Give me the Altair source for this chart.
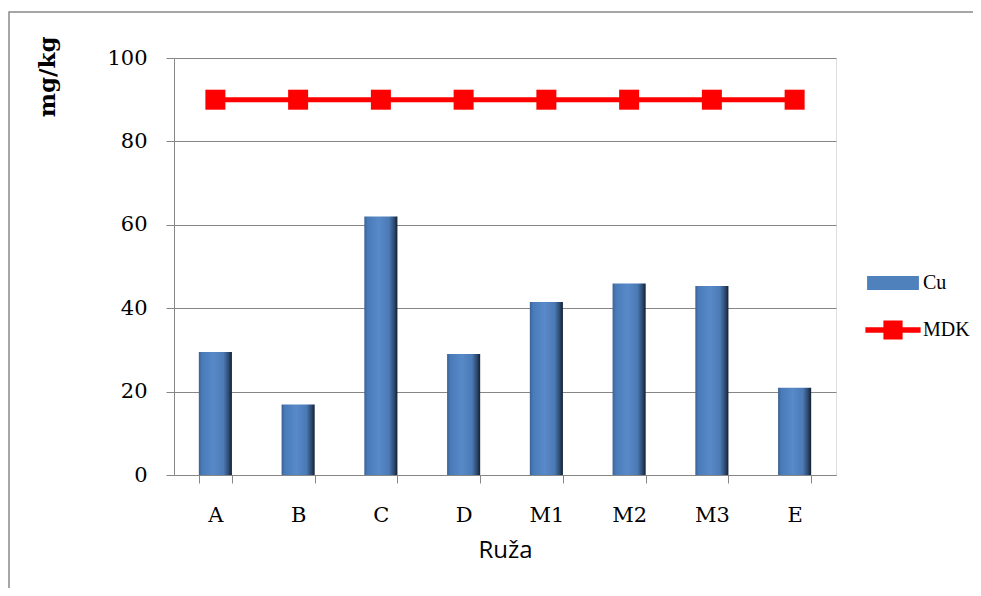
import altair as alt
import pandas as pd

categories = ["A", "B", "C", "D", "M1", "M2", "M3", "E"]
cu_values = [29.5, 16.9, 62.0, 29.0, 41.5, 45.9, 45.3, 20.9]
mdk_values = [90, 90, 90, 90, 90, 90, 90, 90]
series_names = ["Cu", "MDK"]
y_ticks = [0, 20, 40, 60, 80, 100]

df = pd.DataFrame({"Ruža": categories, "Cu": cu_values, "MDK": mdk_values, "series": ["MDK"] * len(categories)})

GRAY = "#868686"
SERIF = "DejaVu Serif"

x_enc = alt.X(
    "Ruža:N",
    sort=categories,
    scale=alt.Scale(paddingInner=0.6, paddingOuter=0.3),
    axis=alt.Axis(
        title="Ruža",
        titleFont="Open Sans",
        titleFontSize=24,
        titleFontWeight="normal",
        titleColor="#000000",
        titlePadding=13,
        labelFont=SERIF,
        labelFontSize=21,
        labelColor="#000000",
        labelAngle=0,
        labelPadding=21,
        tickBand="extent",
        tickSize=8,
        tickColor=GRAY,
        domainColor=GRAY,
        grid=False,
    ),
)

y_axis = alt.Axis(
    title="mg/kg",
    titleFont=SERIF,
    titleFontSize=23,
    titleFontWeight="bold",
    titleColor="#000000",
    titleAngle=-90,
    titleAlign="right",
    titleBaseline="middle",
    titleX=-127,
    titleY=-22,
    labelFont=SERIF,
    labelFontSize=21,
    labelColor="#000000",
    labelPadding=19,
    values=y_ticks,
    tickSize=8,
    tickColor=GRAY,
    domainColor=GRAY,
    gridColor=GRAY,
    gridWidth=1,
)

bar_gradient = alt.LinearGradient(
    gradient="linear",
    x1=0, x2=1, y1=0, y2=0,
    stops=[
        alt.GradientStop(color="#3a6295", offset=0),
        alt.GradientStop(color="#4a7bb9", offset=0.1),
        alt.GradientStop(color="#5889c8", offset=0.45),
        alt.GradientStop(color="#4b7ab5", offset=0.75),
        alt.GradientStop(color="#2d4a6f", offset=0.9),
        alt.GradientStop(color="#131f33", offset=1),
    ],
)

base = alt.Chart(df)

bars = base.mark_bar(color=bar_gradient).encode(
    x=x_enc,
    y=alt.Y("Cu:Q", scale=alt.Scale(domain=[0, 100]), axis=y_axis),
)

line = base.mark_line(color="#ff0000", strokeWidth=5).encode(
    x=alt.X("Ruža:N", sort=categories),
    y=alt.Y("MDK:Q"),
)

cu_path = "M-1.08,-0.29H1.08V0.29H-1.08Z"
mdk_path = "M-1.15,-0.11H-0.4V-0.4H0.4V-0.11H1.15V0.11H0.4V0.4H-0.4V0.11H-1.15Z"

legend_props = dict(
    title=None,
    orient="none",
    legendX=694,
    legendY=200,
    symbolSize=2304,
    labelFont="Liberation Serif",
    labelFontSize=20,
    labelColor="#000000",
    labelOffset=5,
    rowPadding=12,
    padding=0,
)

legend_layer = base.mark_point(filled=True, size=4, strokeWidth=0, opacity=1).encode(
    x=alt.X("Ruža:N", sort=categories),
    y=alt.Y("MDK:Q"),
    color=alt.Color(
        "series:N",
        scale=alt.Scale(domain=series_names, range=["#4f81bd", "#ff0000"]),
        legend=alt.Legend(**legend_props),
    ),
    shape=alt.Shape(
        "series:N",
        scale=alt.Scale(domain=series_names, range=[cu_path, mdk_path]),
        legend=alt.Legend(**legend_props),
    ),
)

squares = base.mark_square(size=400, color="#ff0000", opacity=1).encode(
    x=alt.X("Ruža:N", sort=categories),
    y=alt.Y("MDK:Q"),
)

frame = alt.Chart(pd.DataFrame({"f": [0]})).mark_rect(
    fill="transparent", stroke="#898989", strokeWidth=1.5
).encode(
    x=alt.value(-165), x2=alt.value(830), y=alt.value(-46), y2=alt.value(560)
)

chart = alt.layer(frame, bars, line, legend_layer, squares).properties(
    width=662,
    height=417,
    autosize=alt.AutoSizeParams(type="none"),
    padding={"left": 166, "top": 50, "right": 137, "bottom": 113},
).configure_view(strokeOpacity=0).configure(background="#ffffff")

chart.save("out.html", embed_options={"renderer": "svg", "actions": False})
